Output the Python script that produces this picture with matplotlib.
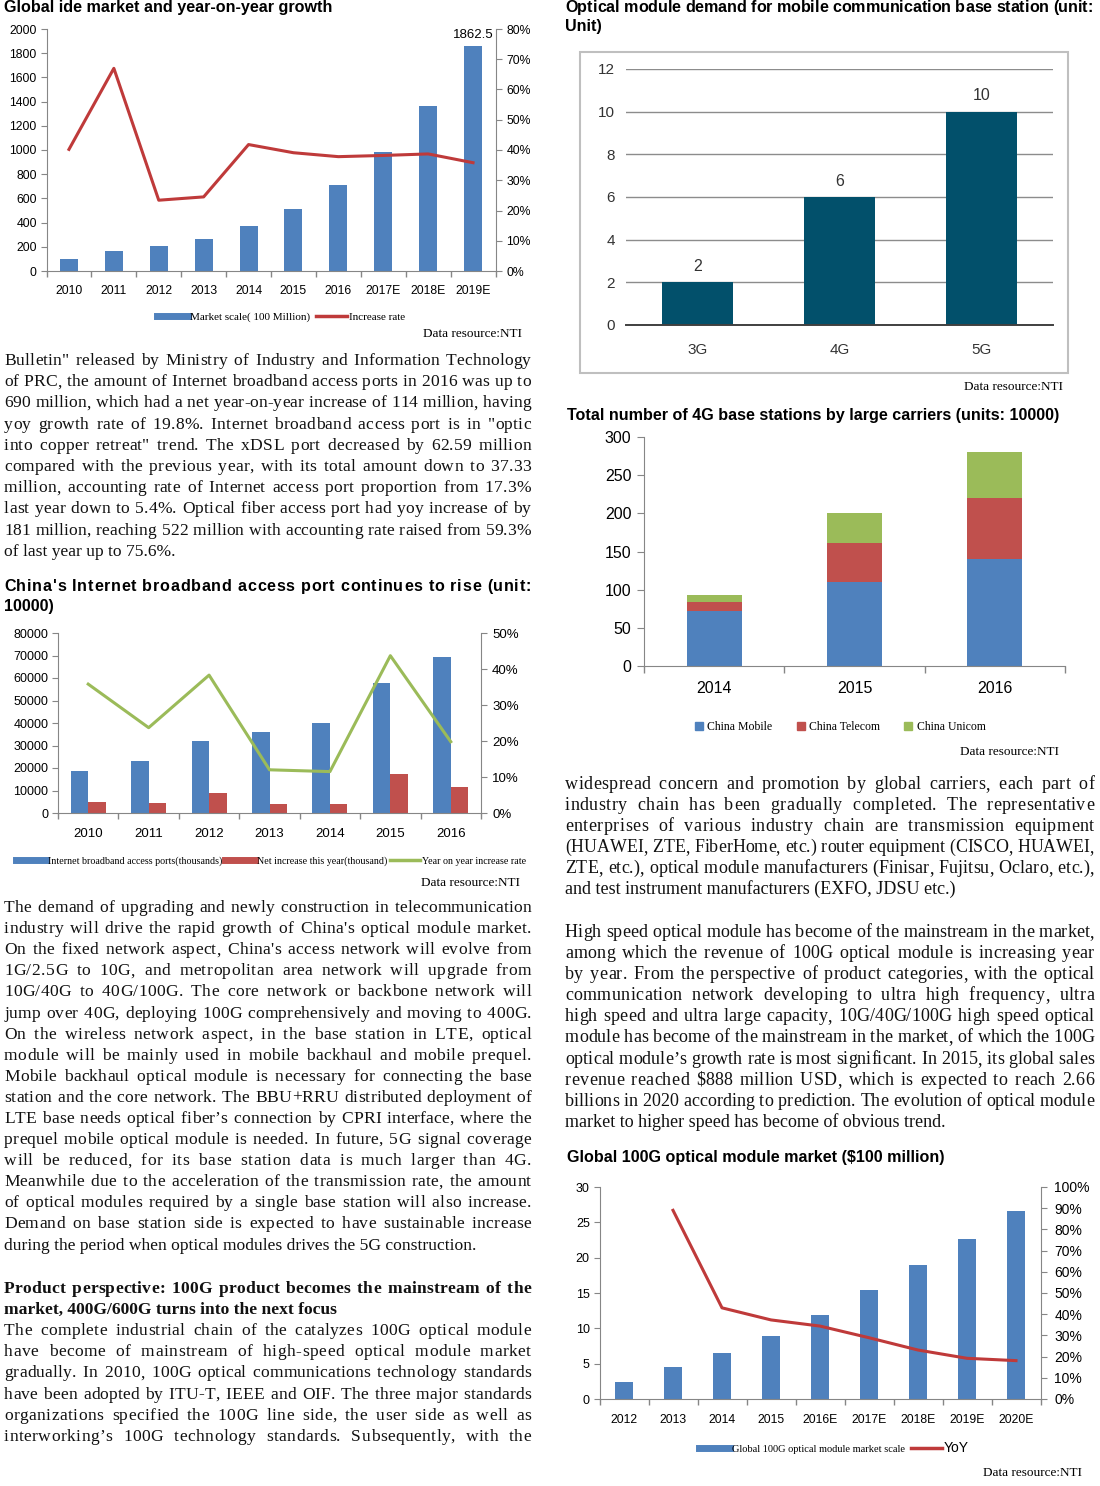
import numpy as np
import matplotlib
matplotlib.use('Agg')
import matplotlib.pyplot as plt
from matplotlib.font_manager import FontProperties, fontManager
from matplotlib.lines import Line2D
from matplotlib.patches import Rectangle

W, H = 1100, 1486

# --- chart 1: global ide market ---
ide_years = ['2010', '2011', '2012', '2013', '2014', '2015', '2016', '2017E', '2018E', '2019E']
ide_market = [100, 168, 207, 262, 369, 515, 711, 981, 1366, 1862.5]
ide_growth = [40.2, 67.0, 23.4, 24.5, 41.8, 39.1, 37.8, 38.2, 38.7, 35.8]

# --- chart 2: broadband access ports ---
port_years = ['2010', '2011', '2012', '2013', '2014', '2015', '2016']
port_total = [18700, 23250, 32150, 36000, 40150, 57650, 69200]
port_net = [4900, 4300, 8750, 3850, 4000, 17350, 11400]
port_yoy = [35.8, 23.7, 38.3, 12.0, 11.5, 43.7, 19.8]

# --- chart 3: modules per base station ---
gen_labels = ['3G', '4G', '5G']
gen_modules = [2, 6, 10]

# --- chart 4: 4G base stations ---
bs_years = ['2014', '2015', '2016']
carriers = ['China Mobile', 'China Telecom', 'China Unicom']
bs_mobile = [72, 110, 140]
bs_telecom = [12, 51, 80]
bs_unicom = [9, 39, 60]

# --- chart 5: 100G module market ---
g100_years = ['2012', '2013', '2014', '2015', '2016E', '2017E', '2018E', '2019E', '2020E']
g100_market = [2.36, 4.57, 6.46, 8.88, 11.9, 15.4, 19.0, 22.6, 26.6]
g100_yoy = [np.nan, 89.0, 43.0, 37.3, 34.4, 28.9, 23.1, 19.2, 18.1]

# --- article text ---
text_bulletin = [
    'Bulletin" released by Ministry of Industry and Information Technology',
    'of PRC, the amount of Internet broadband access ports in 2016 was up to',
    '690 million, which had a net year-on-year increase of 114 million, having',
    'yoy growth rate of 19.8%. Internet broadband access port is in "optic',
    'into copper retreat" trend. The xDSL port decreased by 62.59 million',
    'compared with the previous year, with its total amount down to 37.33',
    'million, accounting rate of Internet access port proportion from 17.3%',
    'last year down to 5.4%. Optical fiber access port had yoy increase of by',
    '181 million, reaching 522 million with accounting rate raised from 59.3%',
    'of last year up to 75.6%.',
]
text_demand = [
    'The demand of upgrading and newly construction in telecommunication',
    "industry will drive the rapid growth of China's optical module market.",
    "On the fixed network aspect, China's access network will evolve from",
    '1G/2.5G to 10G, and metropolitan area network will upgrade from',
    '10G/40G to 40G/100G. The core network or backbone network will',
    'jump over 40G, deploying 100G comprehensively and moving to 400G.',
    'On the wireless network aspect, in the base station in LTE, optical',
    'module will be mainly used in mobile backhaul and mobile prequel.',
    'Mobile backhaul optical module is necessary for connecting the base',
    'station and the core network. The BBU+RRU distributed deployment of',
    'LTE base needs optical fiber\u2019s connection by CPRI interface, where the',
    'prequel mobile optical module is needed. In future, 5G signal coverage',
    'will be reduced, for its base station data is much larger than 4G.',
    'Meanwhile due to the acceleration of the transmission rate, the amount',
    'of optical modules required by a single base station will also increase.',
    'Demand on base station side is expected to have sustainable increase',
    'during the period when optical modules drives the 5G construction.',
]
text_heading = [
    'Product perspective: 100G product becomes the mainstream of the',
    'market, 400G/600G turns into the next focus',
]
text_chain = [
    'The complete industrial chain of the catalyzes 100G optical module',
    'have become of mainstream of high-speed optical module market',
    'gradually. In 2010, 100G optical communications technology standards',
    'have been adopted by ITU-T, IEEE and OIF. The three major standards',
    'organizations specified the 100G line side, the user side as well as',
    'interworking\u2019s 100G technology standards. Subsequently, with the',
]
text_carriers = [
    'widespread concern and promotion by global carriers, each part of',
    'industry chain has been gradually completed. The representative',
    'enterprises of various industry chain are transmission equipment',
    '(HUAWEI, ZTE, FiberHome, etc.) router equipment (CISCO, HUAWEI,',
    'ZTE, etc.), optical module manufacturers (Finisar, Fujitsu, Oclaro, etc.),',
    'and test instrument manufacturers (EXFO, JDSU etc.)',
]
text_highspeed = [
    'High speed optical module has become of the mainstream in the market,',
    'among which the revenue of 100G optical module is increasing year',
    'by year. From the perspective of product categories, with the optical',
    'communication network developing to ultra high frequency, ultra',
    'high speed and ultra large capacity, 10G/40G/100G high speed optical',
    'module has become of the mainstream in the market, of which the 100G',
    'optical module\u2019s growth rate is most significant. In 2015, its global sales',
    'revenue reached $888 million USD, which is expected to reach 2.66',
    'billions in 2020 according to prediction. The evolution of optical module',
    'market to higher speed has become of obvious trend.',
]

BLUE = '#4F81BD'
RED = '#C0504D'
LINE_RED = '#BF3A3A'
GREEN = '#9BBB59'
TEAL = '#02506B'
GRAY = '#868686'
SANS = 'Liberation Sans'
SERIF = 'Liberation Serif'
fonts = {f.name for f in fontManager.ttflist}
NARROW = 'Liberation Sans Narrow' if 'Liberation Sans Narrow' in fonts else SANS
TITLE_SIZE = 11.6

fig = plt.figure(figsize=(W / 100, H / 100), dpi=100)
renderer = fig.canvas.get_renderer()


def px_axes(left, top, right, bottom):
    """Axes from pixel box (top-left origin)."""
    return fig.add_axes([left / W, 1 - bottom / H, (right - left) / W, (bottom - top) / H])


def text_width(s, fp):
    return renderer.get_text_width_height_descent(s, fp, ismath=False)[0]


def spread_line(line, x0, x1, y, fp, word_share, color='#111111'):
    """Justify one line: part of the slack goes to spaces, the rest to letter spacing."""
    space = text_width('a a', fp) - text_width('aa', fp)
    widths = [space if c == ' ' else text_width(c, fp) for c in line]
    slack = x1 - x0 - sum(widths)
    n_spaces = line.count(' ')
    per_space = slack * word_share / n_spaces if n_spaces else 0
    per_char = slack * (1 - word_share if n_spaces else 1) / (len(line) - 1)
    x = x0
    for c, wd in zip(line, widths):
        if c != ' ':
            fig.text(x / W, y, c, fontproperties=fp, ha='left', va='baseline', color=color)
        x += wd + per_char + (per_space if c == ' ' else 0)


def write_block(lines, x0, x1, y0, dy, size=12.6, weight='normal', family=SERIF,
                justify_last=False, word_share=0.55):
    fp = FontProperties(family=family, size=size, weight=weight)
    for i, line in enumerate(lines):
        y = 1 - (y0 + i * dy) / H
        if i == len(lines) - 1 and not justify_last:
            fig.text(x0 / W, y, line, fontproperties=fp, ha='left', va='baseline', color='#111111')
            continue
        lfp = fp
        s = size
        while text_width(line, lfp) > x1 - x0 - 2 and s > 9:
            s -= 0.1
            lfp = FontProperties(family=family, size=s, weight=weight)
        spread_line(line, x0, x1, y, lfp, word_share)


def write_title(lines, x0, x1, y0, dy):
    """Bold sans title; full lines are justified by letter spacing."""
    fp = FontProperties(family=SANS, size=TITLE_SIZE, weight='bold')
    for i, line in enumerate(lines):
        y = 1 - (y0 + i * dy) / H
        if i == len(lines) - 1:
            fig.text(x0 / W, y, line, fontproperties=fp, ha='left', va='baseline')
        else:
            spread_line(line, x0, x1, y, fp, 0.0, color='black')


def source(x_right, y):
    fig.text(x_right / W, 1 - y / H, 'Data resource:NTI', family=SERIF, fontsize=9.5,
             ha='right', va='center')


def category_axis(ax, labels, pad, size=8.5, family=SANS):
    n = len(labels)
    ax.set_xlim(-0.5, n - 0.5)
    ax.set_xticks(np.arange(n))
    ax.set_xticklabels(labels, fontsize=size, family=family)
    ax.set_xticks(np.arange(n + 1) - 0.5, minor=True)
    ax.tick_params(axis='x', which='major', length=0, pad=pad)
    ax.tick_params(axis='x', which='minor', length=4, color=GRAY, width=1)


def excel_style(ax, ax2=None):
    for s in ['top', 'right']:
        ax.spines[s].set_visible(False)
    for s in ['left', 'bottom']:
        ax.spines[s].set_color(GRAY)
    ax.tick_params(axis='y', length=4, color=GRAY, pad=3)
    if ax2 is not None:
        for s in ['top', 'left', 'bottom']:
            ax2.spines[s].set_visible(False)
        ax2.spines['right'].set_color(GRAY)
        ax2.tick_params(axis='y', length=4, color=GRAY, pad=4)


def pct(vals):
    return [f'{v}%' for v in vals]


# ================= chart 1 =================
fig.text(4 / W, 1 - 12 / H, 'Global ide market and year-on-year growth', family=SANS,
         weight='bold', fontsize=TITLE_SIZE, ha='left', va='baseline')
ax = px_axes(46.5, 29, 495.5, 271)
x = np.arange(len(ide_years))
ax.bar(x, ide_market, width=0.4, color=BLUE, zorder=2)
ax.set_ylim(0, 2000)
ax.set_yticks(np.arange(0, 2001, 200))
ax.set_yticklabels([str(v) for v in range(0, 2001, 200)], fontsize=8.8, family=SANS)
category_axis(ax, ide_years, pad=10, size=8.8)
ax.annotate(f'{ide_market[-1]}', (x[-1], ide_market[-1]), xytext=(0, 3),
            textcoords='offset points', ha='center', va='bottom', fontsize=9.5, family=SANS)
ax2 = ax.twinx()
ax2.plot(x, ide_growth, color=LINE_RED, lw=2.2, zorder=3)
ax2.set_ylim(0, 80)
ax2.set_yticks(np.arange(0, 81, 10))
ax2.set_yticklabels(pct(range(0, 81, 10)), fontsize=8.8, family=SANS)
excel_style(ax, ax2)
ax.legend([Line2D([], [], color=BLUE, lw=5), Line2D([], [], color=LINE_RED, lw=2.5)],
          ['Market scale( 100 Million)', 'Increase rate'], loc='center',
          bbox_to_anchor=(281 / W, 1 - 317 / H), bbox_transform=fig.transFigure,
          ncol=2, frameon=False, prop=FontProperties(family=SERIF, size=8),
          handlelength=2.8, handletextpad=0.2, columnspacing=0.5)
source(522, 334)

write_block(text_bulletin, 4, 531, 365, 21.2)

# ================= chart 2 =================
write_title(["China's Internet broadband access port continues to rise (unit:", '10000)'],
            4, 531, 591, 19.5)
ax = px_axes(58, 633, 481, 813)
x = np.arange(len(port_years))
bw = 0.29
ax.bar(x - bw / 2, port_total, width=bw, color=BLUE, zorder=2)
ax.bar(x + bw / 2, port_net, width=bw, color=RED, zorder=2)
ax.set_ylim(0, 80000)
ax.set_yticks(np.arange(0, 80001, 10000))
ax.set_yticklabels([str(v) for v in range(0, 80001, 10000)], fontsize=9, family=SANS)
category_axis(ax, port_years, pad=11, size=9.5)
ax2 = ax.twinx()
ax2.plot(x, port_yoy, color=GREEN, lw=2.2, zorder=3)
ax2.set_ylim(0, 50)
ax2.set_yticks(np.arange(0, 51, 10))
ax2.set_yticklabels(pct(range(0, 51, 10)), fontsize=9.5, family=SANS)
excel_style(ax, ax2)
ax.legend([Line2D([], [], color=BLUE, lw=5), Line2D([], [], color=RED, lw=5),
           Line2D([], [], color=GREEN, lw=2.5)],
          ['Internet broadband access ports(thousands)', 'Net increase this year(thousand)',
           'Year on year increase rate'], loc='center',
          bbox_to_anchor=(271 / W, 1 - 861 / H), bbox_transform=fig.transFigure,
          ncol=3, frameon=False, prop=FontProperties(family=SERIF, size=7.2),
          handlelength=3.0, handletextpad=0.2, columnspacing=0.3)
source(520, 883)

write_block(text_demand, 4, 531, 912, 21.1)
write_block(text_heading, 4, 531, 1293, 21.1, weight='bold')
write_block(text_chain, 4, 531, 1335, 21.2, justify_last=True)

# ================= chart 3 =================
write_title(['Optical module demand for mobile communication base station (unit:', 'Unit)'],
            565, 1093, 12, 18.5)
fig.add_artist(Rectangle((580 / W, 1 - 373 / H), 488 / W, 321 / H, transform=fig.transFigure,
                         fill=False, edgecolor='#BFBFBF', lw=1.5))
ax = px_axes(626, 69, 1053, 325)
x = np.arange(len(gen_labels))
bars = ax.bar(x, gen_modules, width=0.5, color=TEAL, zorder=2)
ax.bar_label(bars, labels=[str(v) for v in gen_modules], padding=6, fontsize=11.5,
             family=NARROW, color='#333333')
ax.set_xlim(-0.5, len(gen_labels) - 0.5)
ax.set_ylim(0, 12)
ax.set_yticks(np.arange(0, 13, 2))
ax.set_yticklabels([str(v) for v in range(0, 13, 2)], fontsize=11, family=NARROW, color='#333333')
ax.set_xticks(x)
ax.set_xticklabels(gen_labels, fontsize=11, family=NARROW, color='#333333')
ax.tick_params(axis='both', length=0)
ax.tick_params(axis='y', pad=8)
ax.tick_params(axis='x', pad=13)
ax.yaxis.grid(True, color='#8C8C8C', lw=1.0)
ax.set_axisbelow(True)
for s in ['top', 'right', 'left']:
    ax.spines[s].set_visible(False)
ax.spines['bottom'].set_color('#404040')
ax.spines['bottom'].set_linewidth(1.4)
source(1063, 387)

# ================= chart 4 =================
fig.text(567 / W, 1 - 420 / H, 'Total number of 4G base stations by large carriers (units: 10000)',
         family=SANS, weight='bold', fontsize=TITLE_SIZE, ha='left', va='baseline')
ax = px_axes(644, 437, 1065, 666)
x = np.arange(len(bs_years))
bottom = np.zeros(len(bs_years))
for vals, col in zip([bs_mobile, bs_telecom, bs_unicom], [BLUE, RED, GREEN]):
    ax.bar(x, vals, bottom=bottom, width=0.39, color=col, zorder=2)
    bottom += np.array(vals)
ax.set_ylim(0, 300)
ax.set_yticks(np.arange(0, 301, 50))
ax.set_yticklabels([str(v) for v in range(0, 301, 50)], fontsize=11.5, family=SANS)
category_axis(ax, bs_years, pad=11, size=11.5)
ax.tick_params(axis='x', which='minor', length=5)
excel_style(ax)
ax.tick_params(axis='y', length=5, pad=4)
ax.legend([Line2D([], [], color=c, marker='s', ls='', markersize=6) for c in [BLUE, RED, GREEN]],
          carriers, loc='center', bbox_to_anchor=(840 / W, 1 - 727 / H),
          bbox_transform=fig.transFigure, ncol=3, frameon=False,
          prop=FontProperties(family=SERIF, size=8.5), handlelength=0.8,
          handletextpad=0.3, columnspacing=2.0)
source(1059, 752)

write_block(text_carriers, 565, 1094, 789, 21.0, size=13.0)
write_block(text_highspeed, 565, 1094, 937, 21.1, size=13.0)

# ================= chart 5 =================
fig.text(567 / W, 1 - 1162 / H, 'Global 100G optical module market ($100 million)',
         family=SANS, weight='bold', fontsize=TITLE_SIZE, ha='left', va='baseline')
ax = px_axes(599.5, 1187, 1040.5, 1399)
x = np.arange(len(g100_years))
ax.bar(x, g100_market, width=0.385, color=BLUE, zorder=2)
ax.set_ylim(0, 30)
ax.set_yticks(np.arange(0, 31, 5))
ax.set_yticklabels([str(v) for v in range(0, 31, 5)], fontsize=9, family=SANS)
category_axis(ax, g100_years, pad=11, size=8.8)
ax2 = ax.twinx()
ax2.plot(x, g100_yoy, color=LINE_RED, lw=2.2, zorder=3)
ax2.set_ylim(0, 100)
ax2.set_yticks(np.arange(0, 101, 10))
ax2.set_yticklabels(pct(range(0, 101, 10)), fontsize=10, family=SANS)
excel_style(ax, ax2)
ax2.tick_params(axis='y', pad=6)
leg = ax.legend([Line2D([], [], color=BLUE, lw=5), Line2D([], [], color=LINE_RED, lw=2.5)],
                ['Global 100G optical module market scale', 'YoY'], loc='center',
                bbox_to_anchor=(834 / W, 1 - 1448 / H), bbox_transform=fig.transFigure,
                ncol=2, frameon=False, prop=FontProperties(family=SERIF, size=7.5),
                handlelength=3.0, handletextpad=0.2, columnspacing=0.5)
leg.get_texts()[1].set_fontfamily(SANS)
leg.get_texts()[1].set_fontsize(10)
source(1082, 1473)

fig.savefig('out.png', dpi=100)
